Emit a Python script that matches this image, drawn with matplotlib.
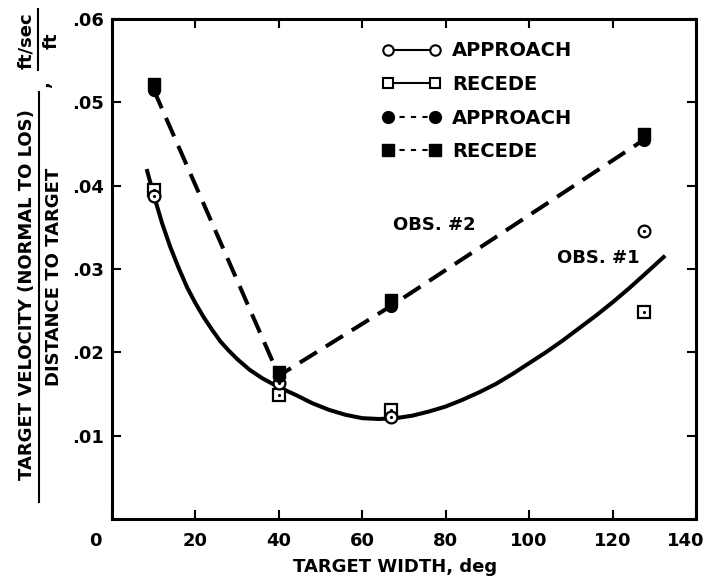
import numpy as np
import matplotlib
matplotlib.use("Agg")
import matplotlib.pyplot as plt
from matplotlib.lines import Line2D
from matplotlib.transforms import ScaledTranslation

plt.rcParams['font.family'] = ['DejaVu Sans']
plt.rcParams['font.weight'] = 'bold'
plt.rcParams['axes.labelweight'] = 'bold'

# observation points (target width, deg)
obs_x = [10, 40, 67, 127.5]
# OBS. #1 (open symbols)
appr1 = [0.0388, 0.0163, 0.0123, 0.0346]
rec1 = [0.0395, 0.0149, 0.0131, 0.0249]
# OBS. #2 (filled symbols)
appr2 = [0.0515, 0.0172, 0.0256, 0.0455]
rec2 = [0.0522, 0.0177, 0.0263, 0.0462]

# faired curve through OBS. #1
curve_x = [8.3, 10, 12, 14, 16, 18, 20, 22, 24, 26, 28, 30, 33, 36, 40, 44,
           48, 52, 56, 60, 64, 68, 72, 76, 80, 84, 88, 92, 96, 100, 104,
           108, 112, 116, 120, 124, 128, 132.6]
curve_y = [0.0420, 0.0389, 0.0355, 0.0326, 0.0301, 0.0278, 0.0259, 0.0242,
           0.0227, 0.0213, 0.0202, 0.0192, 0.0179, 0.0169, 0.0158, 0.0149,
           0.0139, 0.0131, 0.0125, 0.0121, 0.0120, 0.0121, 0.0124, 0.0129,
           0.0135, 0.0143, 0.0152, 0.0162, 0.0174, 0.0187, 0.0200, 0.0214,
           0.0229, 0.0244, 0.0260, 0.0277, 0.0295, 0.0316]

x_ticks = [0, 20, 40, 60, 80, 100, 120, 140]
x_labels = ['0', '20', '40', '60', '80', '100', '120', '140']
y_ticks = [0.01, 0.02, 0.03, 0.04, 0.05, 0.06]
y_labels = ['.01', '.02', '.03', '.04', '.05', '.06']

W, H = 705, 580
fig = plt.figure(figsize=(W / 100, H / 100), dpi=100)
ax = fig.add_axes([112 / W, 1 - 519 / H, 584 / W, 500 / H])


def px(x, y):
    return x / W, 1 - y / H


FS = 13
LW = 2.9

# OBS. #1 faired curve
ax.plot(curve_x, curve_y, color='black', lw=LW, solid_capstyle='butt',
        solid_joinstyle='round', zorder=2)
# OBS. #2 dashed connecting line
ax.plot(obs_x, appr2, color='black', lw=LW, linestyle=(0, (5, 2.6)), zorder=2)

ms = 8.5
ax.plot(obs_x, rec1, 's', ms=ms, mfc='white', mec='black', mew=1.6, zorder=3)
ax.plot(obs_x, appr1, 'o', ms=ms, mfc='white', mec='black', mew=1.6, zorder=3)
ax.plot(obs_x, rec1, '.', ms=2.5, color='black', zorder=4)
ax.plot(obs_x, appr1, '.', ms=2.5, color='black', zorder=4)
ax.plot(obs_x, appr2, 'o', ms=ms, color='black', zorder=3)
ax.plot(obs_x, rec2, 's', ms=ms, color='black', zorder=3)

ax.text(77.2, 0.0353, 'OBS. #2', fontsize=FS, ha='center', va='center')
ax.text(116.5, 0.0313, 'OBS. #1', fontsize=FS, ha='center', va='center')

ax.set_xlim(0, 140)
ax.set_ylim(0, 0.06)
ax.set_xticks(x_ticks)
ax.set_xticklabels(x_labels)
ax.set_yticks(y_ticks)
ax.set_yticklabels(y_labels)
ax.tick_params(direction='in', length=6.5, width=1.5, top=True, right=True,
               labelsize=FS)
ax.tick_params(axis='x', pad=9)
ax.tick_params(axis='y', pad=6)
for sp in ax.spines.values():
    sp.set_linewidth(2.2)

# shift the end labels as in the original
lbls = ax.get_xticklabels()
lbls[0].set_transform(lbls[0].get_transform() +
                      ScaledTranslation(-12 / 72, 0, fig.dpi_scale_trans))
lbls[-1].set_transform(lbls[-1].get_transform() +
                       ScaledTranslation(-7.5 / 72, 0, fig.dpi_scale_trans))

ax.set_xlabel('TARGET WIDTH, deg', fontsize=FS)
ax.xaxis.set_label_coords(0.484, -0.077)

# legend with thin proxy lines
handles = [
    Line2D([], [], color='black', lw=1.5, marker='o', ms=7.5, mfc='white', mew=1.5),
    Line2D([], [], color='black', lw=1.5, marker='s', ms=7.5, mfc='white', mew=1.5),
    Line2D([], [], color='black', lw=1.5, ls=(0, (2.5, 3)), marker='o', ms=8.5),
    Line2D([], [], color='black', lw=1.5, ls=(0, (2.5, 3)), marker='s', ms=8.5),
]
labels = ['APPROACH', 'RECEDE', 'APPROACH', 'RECEDE']
ax.legend(handles, labels, loc='upper left', bbox_to_anchor=(0.4623, 0.955),
          frameon=False, numpoints=2, handlelength=3.02, handletextpad=0.58,
          labelspacing=0.75, borderpad=0, borderaxespad=0,
          prop={'size': 14, 'weight': 'bold'})

# stacked y-axis label
fig.text(*px(27.5, 295), 'TARGET VELOCITY (NORMAL TO LOS)', rotation=90,
         fontsize=FS, ha='center', va='center')
fig.text(*px(54, 277), 'DISTANCE TO TARGET', rotation=90,
         fontsize=FS, ha='center', va='center')
fig.add_artist(Line2D([39 / W, 39 / W], [1 - 502 / H, 1 - 92 / H],
                      color='black', lw=1.5, transform=fig.transFigure))
fig.text(*px(44, 84), ',', rotation=90, fontsize=FS, ha='center', va='center')
fig.text(*px(26, 41), 'ft/sec', rotation=90, fontsize=FS, ha='center', va='center')
fig.text(*px(52, 41), 'ft', rotation=90, fontsize=FS, ha='center', va='center')
fig.add_artist(Line2D([38 / W, 38 / W], [1 - 70 / H, 1 - 9 / H],
                      color='black', lw=1.5, transform=fig.transFigure))

fig.savefig('out.png', dpi=100)
